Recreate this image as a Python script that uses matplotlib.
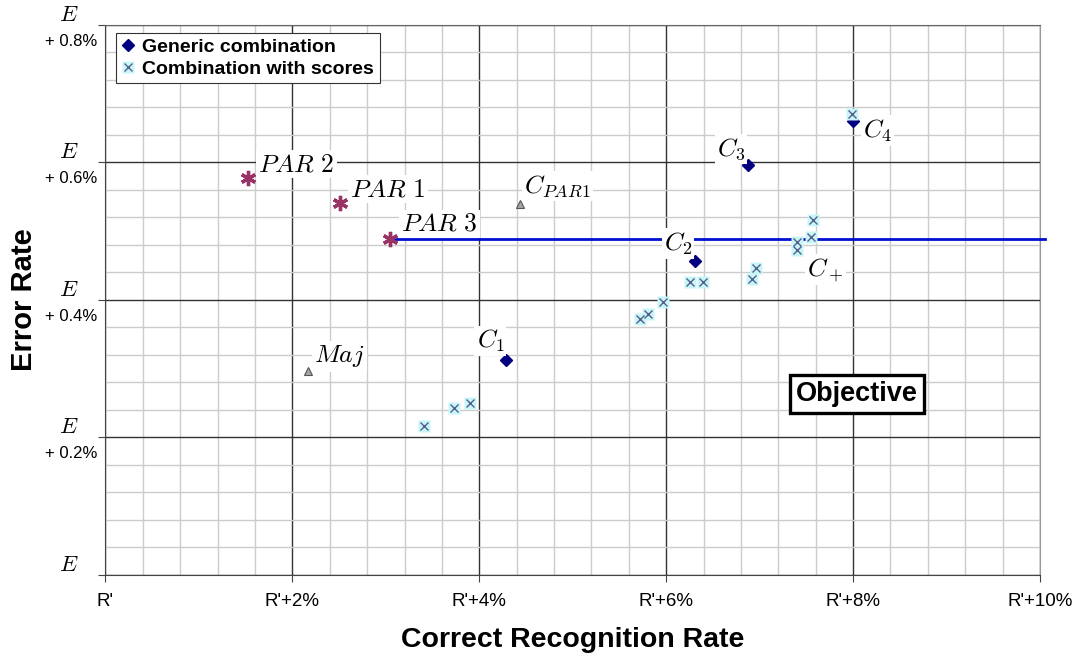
import matplotlib.pyplot as plt
from matplotlib.legend_handler import HandlerTuple
from matplotlib.ticker import MultipleLocator

plt.rcParams["font.family"] = ["Liberation Sans", "DejaVu Sans"]
plt.rcParams["mathtext.fontset"] = "cm"

# x: correct recognition rate above R' (%), y: error rate above E (%)
par_names = ["PAR 2", "PAR 1", "PAR 3"]
par_x = [1.53, 2.51, 3.05]
par_y = [0.577, 0.541, 0.489]

ref_names = ["Maj", "C_{PAR1}"]
ref_x = [2.17, 4.44]
ref_y = [0.296, 0.540]

gen_names = ["C_1", "C_2", "C_3", "C_4"]
gen_x = [4.29, 6.31, 6.88, 8.00]
gen_y = [0.313, 0.456, 0.597, 0.661]

score_x = [3.41, 3.73, 3.90, 5.72, 5.81, 5.97, 6.25, 6.39, 6.92, 6.96,
           7.40, 7.40, 7.55, 7.57, 7.99]
score_y = [0.217, 0.243, 0.250, 0.373, 0.380, 0.397, 0.426, 0.426, 0.431, 0.447,
           0.472, 0.484, 0.491, 0.517, 0.671]

line_end_x = 10.05  # threshold line runs from PAR 3 to just past the axis

x_ticks = [0, 2, 4, 6, 8, 10]
x_labels = ["R'", "R'+2%", "R'+4%", "R'+6%", "R'+8%", "R'+10%"]
y_ticks = [0, 0.2, 0.4, 0.6, 0.8]
y_labels = ["", "+ 0.2%", "+ 0.4%", "+ 0.6%", "+ 0.8%"]

fig = plt.figure(figsize=(10.73, 6.54), dpi=100)
ax = fig.add_axes([0.0983, 0.1208, 0.8709, 0.8410])
ax.set_xlim(0, 10)
ax.set_ylim(0, 0.8)

# grid
ax.xaxis.set_minor_locator(MultipleLocator(0.4))
ax.yaxis.set_minor_locator(MultipleLocator(0.04))
ax.grid(which="minor", color="#cccccc", lw=1.0)
ax.grid(which="major", color="#333333", lw=1.0)
ax.set_axisbelow(True)
for s in ["left", "bottom"]:
    ax.spines[s].set_color("#444444")
ax.spines["top"].set_color("#666666")
ax.spines["right"].set_color("#999999")
ax.tick_params(which="minor", length=0)
ax.tick_params(which="major", length=5, color="#444444", direction="out")

ax.set_xticks(x_ticks)
ax.set_xticklabels(x_labels, fontsize=13.5)
ax.tick_params(axis="x", pad=8)
ax.set_yticks(y_ticks)
ax.set_yticklabels([])
for v, lab in zip(y_ticks, y_labels):
    ax.annotate("$E$", xy=(0, v), xycoords=("axes fraction", "data"),
                xytext=(-27, -1), textcoords="offset pixels",
                ha="right", va="bottom", fontsize=16.5, annotation_clip=False)
    if lab:
        ax.annotate(lab, xy=(0, v), xycoords=("axes fraction", "data"),
                    xytext=(-8, -9), textcoords="offset pixels",
                    ha="right", va="top", fontsize=12, annotation_clip=False)

ax.set_xlabel("Correct Recognition Rate", fontsize=20.5, fontweight="bold", labelpad=12)
ax.set_ylabel("Error Rate", fontsize=21, fontweight="bold", labelpad=40)

# threshold line from PAR 3
ax.plot([par_x[2], line_end_x], [par_y[2], par_y[2]], color="#0010d0", lw=2.0,
        clip_on=False, zorder=3)

# markers
ax.plot(par_x, par_y, ls="none", marker=(6, 2, 0), ms=11, mew=2.4,
        color="#993366", zorder=4)
ax.plot(ref_x, ref_y, ls="none", marker="^", ms=6, mfc="#a6a6a6",
        mec="#555555", mew=0.8, zorder=4)
gen_h, = ax.plot(gen_x, gen_y, ls="none", marker="D", ms=6.5, color="#000080",
                 zorder=4)
bg_h, = ax.plot(score_x, score_y, ls="none", marker="s", ms=8.5,
                mfc="#c8f6f8", mec="none", zorder=5)
x_h, = ax.plot(score_x, score_y, ls="none", marker="x", ms=6, mew=1.0,
               color="#55608a", zorder=6)

lbl_box = dict(boxstyle="square,pad=0.08", fc="white", ec="none")


def label(txt, x, y, dx, dy, ha="left"):
    ax.annotate(txt, xy=(x, y), xytext=(dx, dy), textcoords="offset pixels",
                ha=ha, va="baseline", fontsize=18.5, bbox=lbl_box, zorder=7)


label(r"$PAR\ 2$", par_x[0], par_y[0], 10, 7)
label(r"$PAR\ 1$", par_x[1], par_y[1], 10, 7)
label(r"$PAR\ 3$", par_x[2], par_y[2], 11, 8)
label(r"$Maj$", ref_x[0], ref_y[0], 6, 9)
label(r"$C_{PAR1}$", ref_x[1], ref_y[1], 4, 11)
label(r"$C_1$", gen_x[0], gen_y[0], -2, 12, ha="right")
label(r"$C_2$", gen_x[1], gen_y[1], -3, 11, ha="right")
label(r"$C_3$", gen_x[2], gen_y[2], -3, 9, ha="right")
label(r"$C_4$", gen_x[3], gen_y[3], 10, -17)
label(r"$C_+$", score_x[10], score_y[10], 10, -25)

ax.text(0.804, 0.329, "Objective", transform=ax.transAxes, ha="center",
        va="center", fontsize=19.5, fontweight="bold", zorder=8,
        bbox=dict(boxstyle="square,pad=0.22", fc="white", ec="black", lw=2.4))

leg = ax.legend([gen_h, (bg_h, x_h)], ["Generic combination", "Combination with scores"],
                handler_map={tuple: HandlerTuple(ndivide=1)},
                loc="upper left", bbox_to_anchor=(0.011, 0.986),
                fancybox=False, framealpha=1, edgecolor="#333333",
                prop={"weight": "bold", "size": 14}, handlelength=0.7,
                handletextpad=0.35, borderpad=0.3, labelspacing=0.2,
                borderaxespad=0)
leg.get_frame().set_linewidth(0.8)
leg.set_zorder(9)

fig.savefig("out.png", dpi=100)
